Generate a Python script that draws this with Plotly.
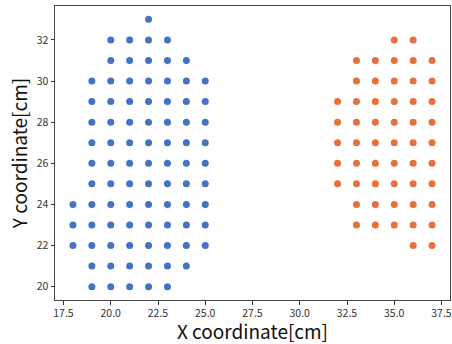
import plotly.graph_objects as go

# Blue cluster: rows of y with x ranges
blue_rows_y = [33, 32, 31, 30, 29, 28, 27, 26, 25, 24, 23, 22, 21, 20]
blue_rows_x = [
    [22],
    [20, 21, 22, 23],
    [20, 21, 22, 23, 24],
    [19, 20, 21, 22, 23, 24, 25],
    [19, 20, 21, 22, 23, 24, 25],
    [19, 20, 21, 22, 23, 24, 25],
    [19, 20, 21, 22, 23, 24, 25],
    [19, 20, 21, 22, 23, 24, 25],
    [19, 20, 21, 22, 23, 24, 25],
    [18, 19, 20, 21, 22, 23, 24, 25],
    [18, 19, 20, 21, 22, 23, 24, 25],
    [18, 19, 20, 21, 22, 23, 24, 25],
    [19, 20, 21, 22, 23, 24],
    [19, 20, 21, 22, 23],
]

orange_rows_y = [32, 31, 30, 29, 28, 27, 26, 25, 24, 23, 22]
orange_rows_x = [
    [35, 36],
    [33, 34, 35, 36, 37],
    [33, 34, 35, 36, 37],
    [32, 33, 34, 35, 36, 37],
    [32, 33, 34, 35, 36, 37],
    [32, 33, 34, 35, 36, 37],
    [32, 33, 34, 35, 36, 37],
    [32, 33, 34, 35, 36, 37],
    [33, 34, 35, 36, 37],
    [33, 34, 35, 36, 37],
    [36, 37],
]

x_ticks = [17.5, 20.0, 22.5, 25.0, 27.5, 30.0, 32.5, 35.0, 37.5]
y_ticks = [20, 22, 24, 26, 28, 30, 32]


def flatten(rows_y, rows_x):
    xs, ys = [], []
    for y, row in zip(rows_y, rows_x):
        for x in row:
            xs.append(x)
            ys.append(y)
    return xs, ys


bx, by = flatten(blue_rows_y, blue_rows_x)
ox, oy = flatten(orange_rows_y, orange_rows_x)

fig = go.Figure()
fig.add_trace(go.Scatter(x=bx, y=by, mode="markers",
                         marker=dict(size=7, color="#4472C4"), showlegend=False))
fig.add_trace(go.Scatter(x=ox, y=oy, mode="markers",
                         marker=dict(size=7, color="#E8703A"), showlegend=False))

font_family = "Noto Sans CJK JP"
fig.update_layout(
    width=452, height=344,
    margin=dict(l=55, r=2, t=6, b=44, autoexpand=False),
    plot_bgcolor="white", paper_bgcolor="white",
    font=dict(family=font_family, color="#222222"),
)
fig.update_xaxes(
    range=[17.05, 37.95], automargin=False,
    tickvals=x_ticks, ticktext=[f"{v:.1f}" for v in x_ticks],
    ticks="outside", ticklen=3.5, tickwidth=1, tickcolor="#333333",
    showline=True, linecolor="#444444", linewidth=1, mirror=True,
    showgrid=False, zeroline=False,
    tickfont=dict(size=10.5, family=font_family, color="#333333"),
    title=dict(text="X coordinate[cm]", font=dict(size=19, family=font_family, color="#111111"), standoff=5),
)
fig.update_yaxes(
    range=[19.35, 33.65], automargin=False,
    tickvals=y_ticks, ticktext=[str(v) for v in y_ticks],
    ticks="outside", ticklen=3.5, tickwidth=1, tickcolor="#333333",
    showline=True, linecolor="#444444", linewidth=1, mirror=True,
    showgrid=False, zeroline=False,
    tickfont=dict(size=10.5, family=font_family, color="#333333"),
    title=dict(text="Y coordinate[cm]", font=dict(size=19, family=font_family, color="#111111"), standoff=4),
)

fig.write_html("out.html", config={"displayModeBar": False},
               post_script="document.body.style.margin='0';")
